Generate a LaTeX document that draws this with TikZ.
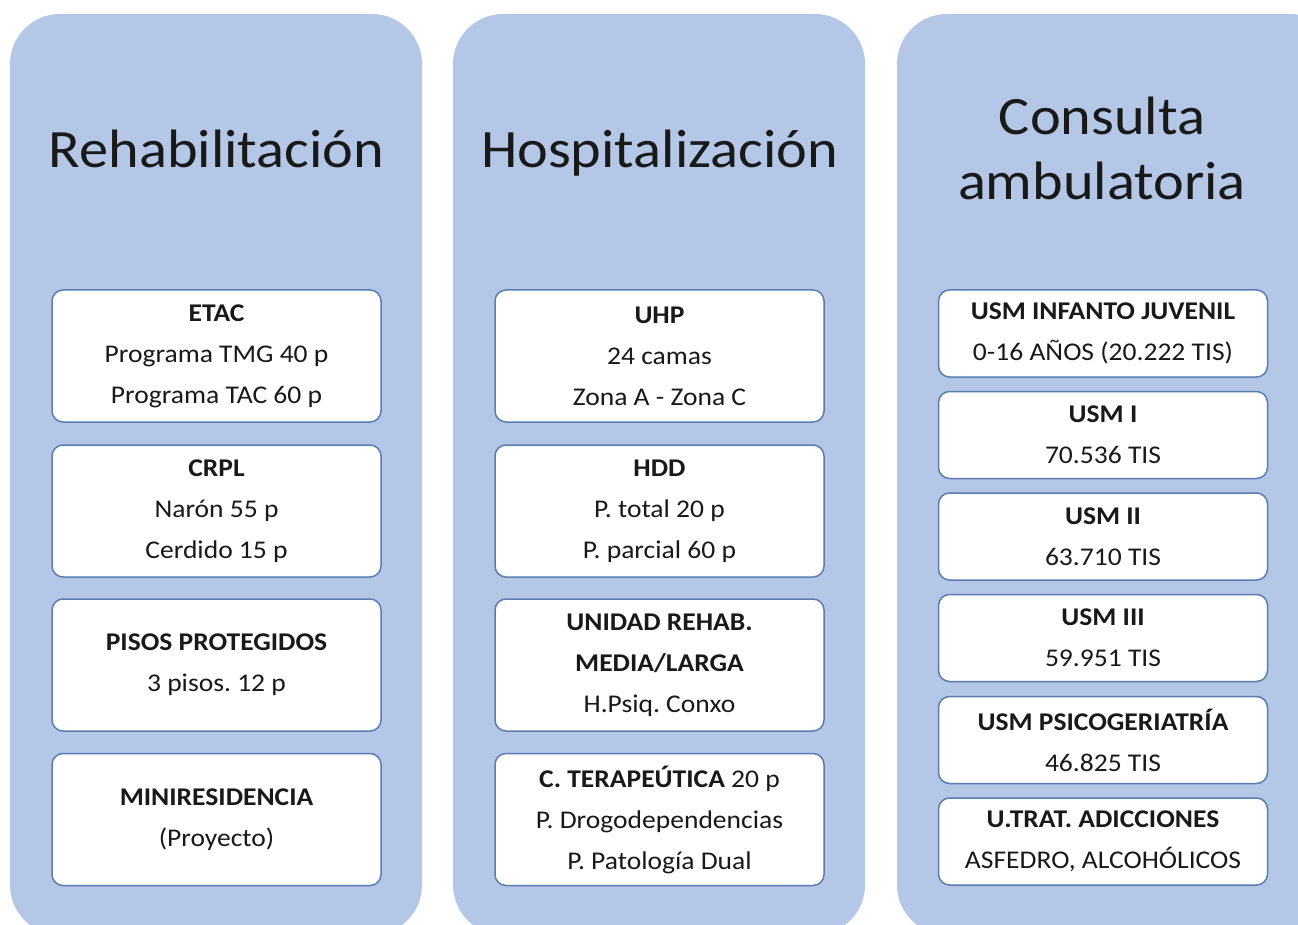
\documentclass[tikz,border=0pt]{standalone}
\usepackage{fontspec}
\setmainfont{Carlito}[FakeStretch=1.08]
\usepackage{tikz}
\usepackage{xcolor}
\frenchspacing
\definecolor{panelblue}{RGB}{180,199,231}
\definecolor{boxline}{RGB}{92,124,176}
\definecolor{inktext}{RGB}{25,25,25}

\tikzset{
  panel/.style={fill=panelblue, rounded corners=50pt},
  titletext/.style={text=inktext, font=\fontsize{54}{65}\selectfont, anchor=base},
  unitbox/.style={draw=boxline, line width=1.5pt, fill=white, rounded corners=11pt, minimum width=329pt, inner sep=0pt, align=center, text=inktext, font=\fontsize{25.5}{41}\selectfont},
  tallbox/.style={unitbox, minimum height=132pt},
  shortbox/.style={unitbox, minimum height=87pt}
}

\begin{document}
\begin{tikzpicture}[x=1pt,y=-1pt]
\useasboundingbox (0,0) rectangle (1298,925);
\clip (0,0) rectangle (1298,925);
\fill[panel] (10,14) rectangle (422,935);
\fill[panel] (453,14) rectangle (865,935);
\fill[panel] (897,14) rectangle (1340,935);

\node[titletext] (rehab) at (216.5,168) {Rehabilitación};
\node[titletext] (hosp) at (659.5,168) {Hospitalización};
\node[titletext] (consulta) at (1102,135) {Consulta};
\node[titletext] (ambul) at (1102,200) {ambulatoria};

\node[tallbox] (etac) at (216.5,356) {\textbf{ETAC}\\Programa TMG 40 p\\Programa TAC 60 p};
\node[tallbox] (crpl) at (216.5,511) {\textbf{CRPL}\\Narón 55 p\\Cerdido 15 p};
\node[tallbox] (pisos) at (216.5,665) {\textbf{PISOS PROTEGIDOS}\\3 pisos. 12 p};
\node[tallbox] (minires) at (216.5,819.5) {\textbf{MINIRESIDENCIA}\\(Proyecto)};

\node[tallbox] (uhp) at (659.5,356) {\textbf{UHP}\\24 camas\\Zona A - Zona C};
\node[tallbox] (hdd) at (659.5,511) {\textbf{HDD}\\P. total 20 p\\P. parcial 60 p};
\node[tallbox] (unidad) at (659.5,665) {\textbf{UNIDAD REHAB.}\\\textbf{MEDIA/LARGA}\\H.Psiq. Conxo};
\node[tallbox] (cterap) at (659.5,819.5) {\textbf{C. TERAPEÚTICA} 20 p\\P. Drogodependencias\\P. Patología Dual};

\node[shortbox] (usmij) at (1103,333.5) {\textbf{USM INFANTO JUVENIL}\\0-16 AÑOS (20.222 TIS)};
\node[shortbox] (usmi) at (1103,435) {\textbf{USM I}\\70.536 TIS};
\node[shortbox] (usmii) at (1103,536.5) {\textbf{USM II}\\63.710 TIS};
\node[shortbox] (usmiii) at (1103,638) {\textbf{USM III}\\59.951 TIS};
\node[shortbox] (usmpsico) at (1103,740) {\textbf{USM PSICOGERIATRÍA}\\46.825 TIS};
\node[shortbox] (utrat) at (1103,841.5) {\textbf{U.TRAT. ADICCIONES}\\ASFEDRO, ALCOHÓLICOS};
\end{tikzpicture}
\end{document}
